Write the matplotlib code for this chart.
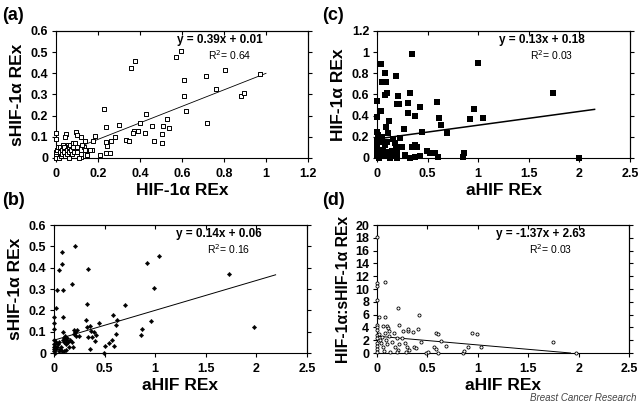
import numpy as np
import matplotlib
matplotlib.use("Agg")
import matplotlib.pyplot as plt
from matplotlib.ticker import FormatStrFormatter

plt.rcParams['font.family'] = ['Liberation Sans', 'DejaVu Sans']

# (a) HIF-1a REx vs sHIF-1a REx
a_x = [0, 0, 0.048, 0.043, 0.095, 0.10, 0.118, 0.137, 0.135, 0.15, 0.173, 0.178, 0.186, 0.118, 0.146,
       0.21, 0.23, 0.24, 0.24, 0.245, 0.24, 0.257, 0.26, 0.28, 0.30, 0.333, 0.348, 0.357, 0.376, 0.373,
       0.368, 0.389, 0.40, 0.425, 0.43, 0.455, 0.468, 0.503, 0.506, 0.51, 0.527, 0.538, 0.571, 0.594,
       0.608, 0.608, 0.617, 0.713, 0.719, 0.762, 0.805, 0.879, 0.895, 0.97,
       0, 0, 0, 0, 0.005, 0.01, 0.015, 0.02, 0.02, 0.025, 0.03, 0.03, 0.035, 0.04, 0.04, 0.045, 0.05,
       0.05, 0.055, 0.06, 0.06, 0.06, 0.065, 0.07, 0.075, 0.08, 0.08, 0.085, 0.09, 0.1, 0.1, 0.11,
       0.12, 0.125, 0.14, 0.16]
a_y = [0.12, 0.09, 0.112, 0.10, 0.123, 0.107, 0.10, 0.08, 0.053, 0.038, 0.038, 0.082, 0.105, 0.003, 0.014,
       0.013, 0.23, 0.145, 0.077, 0.057, 0.025, 0.025, 0.082, 0.10, 0.156, 0.085, 0.082, 0.424, 0.46, 0.129,
       0.117, 0.128, 0.167, 0.12, 0.21, 0.151, 0.082, 0.113, 0.072, 0.151, 0.183, 0.14, 0.479, 0.507,
       0.368, 0.294, 0.224, 0.387, 0.167, 0.326, 0.416, 0.294, 0.307, 0.398,
       0.03, 0.02, 0.01, 0.0, 0.04, 0.05, 0.0, 0.03, 0.05, 0.01, 0.04, 0.02, 0.06, 0.03, 0.05, 0.01, 0.04,
       0.02, 0.06, 0.03, 0.05, 0.0, 0.06, 0.04, 0.02, 0.07, 0.05, 0.03, 0.07, 0.05, 0.03, 0.0,
       0.02, 0.06, 0.04, 0.04]

# (b) aHIF REx vs sHIF-1a REx
b_x = [0.207, 0.076, 0.079, 0.053, 0.333, 0.026, 0.092, 0.175, 0.02, 0.086, 0, 0, 0, 0.086, 0.323,
       0.316, 0.33, 0.36, 0.37, 0.38, 0.34, 0.40, 0.415, 0.405, 0.445, 0.36, 0.49, 0.50, 0.54, 0.57,
       0.59, 0.586, 0.625, 0.61, 0.61, 0.70, 0.856, 0.866, 0.916, 1.034, 0.99, 0.955, 1.73, 1.976,
       0, 0, 0, 0, 0, 0.01, 0.01, 0.02, 0.02, 0.03, 0.04, 0.05, 0.06, 0.07, 0.08, 0.09, 0.1, 0.1,
       0.11, 0.12, 0.12, 0.13, 0.14, 0.15, 0.16, 0.18, 0.19, 0.2, 0.2, 0.21, 0.22, 0.23, 0.25, 0.1,
       0.12, 0.05]
b_y = [0.503, 0.475, 0.416, 0.387, 0.394, 0.295, 0.294, 0.323, 0.209, 0.167, 0.167, 0.139, 0.111, 0.10, 0.228,
       0.155, 0.12, 0.127, 0.103, 0.077, 0.073, 0.10, 0.084, 0.058, 0.142, 0.019, 0.0, 0.034, 0.045, 0.061,
       0.034, 0.177, 0.155, 0.131, 0.089, 0.225, 0.086, 0.114, 0.42, 0.455, 0.305, 0.152, 0.369, 0.122,
       0.06, 0.04, 0.03, 0.02, 0.01, 0.035, 0.0, 0.02, 0.05, 0.03, 0.04, 0.05, 0.02, 0.03, 0.01, 0.06, 0.07, 0.05,
       0.08, 0.06, 0.04, 0.07, 0.05, 0.03, 0.06, 0.05, 0.03, 0.09, 0.11, 0.1, 0.08, 0.11, 0.08, 0.01,
       0.015, 0.01]

# (c) aHIF REx vs HIF-1a REx
c_x = [0.343, 0.036, 1.0, 1.742, 2.0, 0.079, 0.089, 0.046, 0.188, 0.079, 0.10, 0.21, 0.22, 0.20, 0.326,
       0.31, 0.0, 0.036, 0.425, 0.59, 0.31, 0.375, 0.0, 0.12, 0.616, 0.63, 0.69, 0.92, 0.958, 1.044,
       0.267, 0.44, 0.0, 0.013, 0.089, 0.11, 0.18, 0.23, 0.343, 0.38, 0.4, 0.42, 0.375, 0.49, 0.52,
       0.573, 0.606, 0.86, 0.853,
       0.0, 0.0, 0.0, 0.0, 0.04, 0.06, 0.08, 0.1, 0.12, 0.15, 0.17, 0.2, 0.19, 0.02, 0.06, 0.13, 0.2,
       0.25, 0.33, 0.28, 0.16, 0.05, 0.1]
c_y = [0.983, 0.888, 0.90, 0.617, 0.0, 0.806, 0.72, 0.72, 0.775, 0.595, 0.617, 0.59, 0.51, 0.51, 0.617,
       0.523, 0.54, 0.444, 0.479, 0.532, 0.428, 0.397, 0.384, 0.353, 0.375, 0.312, 0.24, 0.365, 0.46, 0.375,
       0.271, 0.249, 0.249, 0.217, 0.29, 0.24, 0.139, 0.186, 0.107, 0.125, 0.107, 0.022, 0.006, 0.069, 0.05,
       0.044, 0.013, 0.05, 0.006,
       0.16, 0.11, 0.06, 0.03, 0.15, 0.08, 0.12, 0.06, 0.03, 0.07, 0.03, 0.05, 0.1, 0.0, 0.02, 0.0, 0.0,
       0.1, 0.0, 0.03, 0.18, 0.2, 0.15]

# (d) aHIF REx vs HIF-1a:sHIF-1a REx
d_x = [0, 0, 0, 0, 0, 0, 0, 0, 0, 0, 0, 0, 0,
       0.079, 0.21, 0.42, 0.023, 0.079, 0.22, 0.06, 0.1, 0.11, 0.585, 0.61, 0.946, 0.99, 1.743, 1.974,
       0.41, 0.31, 0.31, 0.255, 0.63, 0.68, 0.906, 1.03, 0.85, 0.86, 0.565, 0.585, 0.61, 0.49, 0.51,
       0.37, 0.39, 0.44, 0.36,
       0.02, 0.03, 0.04, 0.05, 0.06, 0.07, 0.08, 0.09, 0.1, 0.12, 0.13, 0.15, 0.17, 0.18, 0.2, 0.21,
       0.22, 0.25, 0.28, 0.3, 0.32, 0.12, 0.2, 0.29]
d_y = [18.2, 10.9, 10.4, 8.3, 4.3, 4.0, 3.6, 2.8, 2.3, 1.6, 1.1, 0.6, 0.2,
       11.15, 7.08, 5.94, 5.67, 5.57, 4.37, 4.2, 4.2, 3.9, 3.07, 2.97, 3.07, 2.92, 1.67, 0.05,
       3.7, 3.4, 3.7, 3.4, 1.93, 1.09, 0.89, 0.99, 0.05, 0.36, 0.99, 0.57, 0.05, 0.05, 0.1,
       0.99, 0.73, 1.77, 3.3,
       3.0, 2.0, 1.5, 2.5, 1.0, 0.3, 3.2, 2.0, 1.4, 2.6, 0.2, 1.7, 3.1, 1.0, 2.3, 0.5,
       1.4, 2.4, 1.6, 1.0, 0.4, 3.4, 0.1, 0.1]

# fitted trend lines: slope, intercept, x-range
fits = {
    'a': (0.39, 0.01, 0.0, 1.0, "y = 0.39x + 0.01", "R$^2$= 0.64"),
    'b': (0.14, 0.06, 0.0, 2.19, "y = 0.14x + 0.06", "R$^2$= 0.16"),
    'c': (0.13, 0.18, 0.0, 2.15, "y = 0.13x + 0.18", "R$^2$= 0.03"),
    'd': (-1.37, 2.63, 0.0, 1.92, "y = -1.37x + 2.63", "R$^2$= 0.03"),
}

W, H = 641, 407
fig = plt.figure(figsize=(W / 100, H / 100), dpi=100)


def px_axes(l, t, r, b):
    return fig.add_axes([l / W, 1 - b / H, (r - l) / W, (b - t) / H])


def style(ax, xmax, xstep, ymax, ystep):
    ax.set_xlim(0, xmax)
    ax.set_ylim(0, ymax)
    xt = np.arange(0, xmax + xstep / 2, xstep)
    yt = np.arange(0, ymax + ystep / 2, ystep)
    ax.set_xticks(xt)
    ax.set_yticks(yt)
    ax.xaxis.set_major_formatter(FormatStrFormatter('%g'))
    ax.yaxis.set_major_formatter(FormatStrFormatter('%g'))
    ax.tick_params(direction='out', length=3, width=0.8, labelsize=9)
    ax.tick_params(axis='x', pad=4.5)
    ax.tick_params(axis='y', pad=2.5)
    for lab in ax.get_xticklabels() + ax.get_yticklabels():
        lab.set_fontweight('bold')
    for s in ax.spines.values():
        s.set_linewidth(0.8)
    top = ax.secondary_xaxis('top')
    top.set_xticks(xt)
    top.tick_params(direction='in', length=3, width=0.8, labeltop=False)
    right = ax.secondary_yaxis('right')
    right.set_yticks(yt)
    right.tick_params(direction='out', length=3, width=0.8, labelright=False)


def trend(ax, key, lw):
    m, c, x0, x1, eq, r2 = fits[key]
    xs = np.array([x0, x1])
    ax.plot(xs, m * xs + c, color='black', lw=lw, zorder=3)
    ax.text(0.65, 0.93, eq, transform=ax.transAxes, ha='center', va='center',
            fontsize=8.5, fontweight='bold')
    ax.text(0.69, 0.81, r2, transform=ax.transAxes, ha='center', va='center', fontsize=7.5)


lab = dict(fontsize=12.5, fontweight='bold')

# (a)
ax = px_axes(56, 31, 308, 158)
ax.scatter(a_x, a_y, marker='s', s=9, facecolor='white', edgecolor='black', lw=0.7,
           clip_on=False, zorder=4)
style(ax, 1.2, 0.2, 0.6, 0.1)
trend(ax, 'a', 0.6)
ax.set_xlabel("HIF-1α REx", labelpad=2, **lab)
ax.set_ylabel("sHIF-1α REx", labelpad=4, **lab)

# (b)
ax = px_axes(54, 225, 307, 353)
ax.scatter(b_x, b_y, marker='D', s=5, color='black', lw=0.3, clip_on=False, zorder=4)
style(ax, 2.5, 0.5, 0.6, 0.1)
trend(ax, 'b', 0.7)
ax.set_xlabel("aHIF REx", labelpad=2, **lab)
ax.set_ylabel("sHIF-1α REx", labelpad=4, **lab)

# (c)
ax = px_axes(377, 31, 630, 158)
ax.scatter(c_x, c_y, marker='s', s=22, color='black', lw=0, clip_on=False, zorder=4)
style(ax, 2.5, 0.5, 1.2, 0.2)
trend(ax, 'c', 1.1)
ax.set_xlabel("aHIF REx", labelpad=2, **lab)
ax.set_ylabel("HIF-1α REx", labelpad=4, **lab)

# (d)
ax = px_axes(377, 225, 629, 353)
ax.scatter(d_x, d_y, marker='o', s=5, facecolor='white', edgecolor='black', lw=0.6,
           clip_on=False, zorder=4)
style(ax, 2.5, 0.5, 20, 2)
trend(ax, 'd', 0.7)
ax.set_xlabel("aHIF REx", labelpad=2, **lab)
ax.set_ylabel("HIF-1α:sHIF-1α REx", labelpad=3, fontsize=11.3, fontweight='bold')

for txt, x, y in [("(a)", 2, 15), ("(b)", 2, 200), ("(c)", 322, 15), ("(d)", 322, 200)]:
    fig.text(x / W, 1 - y / H, txt, fontsize=13, fontweight='bold', va='center', ha='left')

fig.text(636 / W, 1 - 398 / H, "Breast Cancer Research", fontsize=7, style='italic',
         color='#444444', ha='right', va='center')

fig.savefig("out.png", dpi=100)
